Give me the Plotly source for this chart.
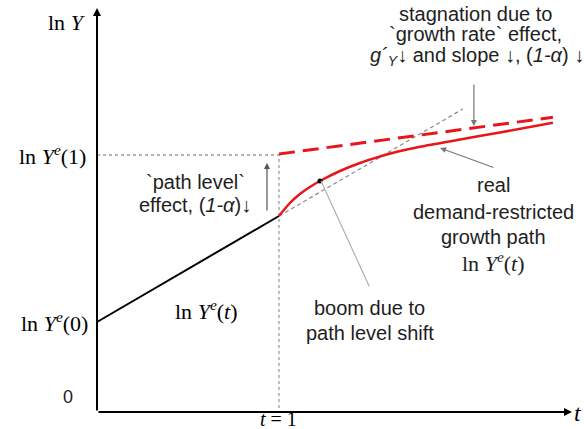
import plotly.graph_objects as go

# --- data (arbitrary units: t on the horizontal axis, ln Y on the vertical) ---
ln_ye0 = 0.90          # ln Y^e(0)
ln_ye1 = 2.57          # ln Y^e(1)
t_shift = 1.0          # t = 1

# equilibrium path before the shift
t_path = [0.0, 1.0]
y_path = [0.90, 1.96]

# continuation of the old path (grey dashed)
t_old = [1.0, 2.01]
y_old = [1.96, 3.03]

# new equilibrium path after the level shift (red dashed)
t_new = [1.0, 2.505]
y_new = [2.58, 2.947]

# real demand-restricted growth path (red solid)
t_real = [1.0, 1.06, 1.115, 1.17, 1.225, 1.335, 1.445, 1.555, 1.648, 1.775, 1.995, 2.214, 2.505]
y_real = [1.96, 2.09, 2.18, 2.25, 2.31, 2.41, 2.49, 2.555, 2.603, 2.653, 2.725, 2.795, 2.893]

# boom point on the real path
t_boom = [1.225]
y_boom = [2.31]

x_end = 2.61
y_top = 4.04

RED = "#e8161b"
SERIF = "Liberation Serif"
SANS = "Liberation Sans"

fig = go.Figure()

# dotted guides to ln Y^e(1) and t = 1
fig.add_trace(go.Scatter(x=[0, t_shift, t_shift], y=[ln_ye1, ln_ye1, 0], mode="lines",
                         line=dict(color="#9a9a9a", width=1.3, dash="dot"), hoverinfo="skip"))
fig.add_trace(go.Scatter(x=t_old, y=y_old, mode="lines",
                         line=dict(color="#8a8a8a", width=1.2, dash="4px,3px"), hoverinfo="skip"))
fig.add_trace(go.Scatter(x=t_path, y=y_path, mode="lines",
                         line=dict(color="black", width=2), hoverinfo="skip"))
fig.add_trace(go.Scatter(x=t_new, y=y_new, mode="lines",
                         line=dict(color=RED, width=3, dash="16px,8px"), hoverinfo="skip"))
fig.add_trace(go.Scatter(x=t_real, y=y_real, mode="lines",
                         line=dict(color=RED, width=2.5, shape="spline", smoothing=0.8),
                         hoverinfo="skip"))
fig.add_trace(go.Scatter(x=t_boom, y=y_boom, mode="markers",
                         marker=dict(color="black", size=5), hoverinfo="skip"))

ann = []


def arrow(x, y, ax, ay, color="#777777", head=2, width=1.2, size=1.0):
    ann.append(dict(x=x, y=y, ax=ax, ay=ay, xref="x", yref="y", axref="x", ayref="y",
                    text="", showarrow=True, arrowhead=head, arrowwidth=width,
                    arrowsize=size, arrowcolor=color))


def label(x, y, text, font=SANS, size=20, xanchor="center", color="#1e1e1e"):
    ann.append(dict(x=x, y=y, xref="x", yref="y", text=text, showarrow=False,
                    xanchor=xanchor, yanchor="middle",
                    font=dict(family=font, size=size, color=color)))


# axes drawn as arrows
arrow(x_end, 0, 0, 0, color="black", head=2, width=2, size=0.8)
arrow(0, y_top, 0, 0, color="black", head=2, width=2, size=0.8)

# annotation arrows
arrow(2.071, 2.86, 2.071, 3.29, color="#777777", head=2, width=1.2)
arrow(0.934, 2.49, 0.934, 2.00, color="#555555", head=2, width=1.2)
arrow(1.885, 2.64, 2.187, 2.44, color="#777777", head=2, width=1.2)
arrow(1.231, 2.31, 1.50, 1.24, color="#b0b0b0", head=0, width=1.2)

# axis labels
label(-0.05, 3.90, "ln <i>Y</i>", font=SERIF, size=22, xanchor="right", color="black")
label(-0.05, ln_ye1, "ln <i>Y</i><sup><i>e</i></sup>(1)", font=SERIF, size=22, xanchor="right", color="black")
label(-0.04, ln_ye0, "ln <i>Y</i><sup><i>e</i></sup>(0)", font=SERIF, size=22, xanchor="right", color="black")
label(-0.16, 0.15, "0", font=SANS, size=18)
label(t_shift, -0.065, "<i>t</i> = 1", font=SERIF, size=20, color="black")
label(2.645, -0.01, "<i>t</i>", font=SERIF, size=24, color="black")
label(0.604, 1.02, "ln <i>Y</i><sup><i>e</i></sup>(<i>t</i>)", font=SERIF, size=22, color="black")

# explanatory text
label(2.08, 3.98, "stagnation due to")
label(2.08, 3.78, "`growth rate` effect,")
label(2.09, 3.56, "<i>g´</i><sub><i>Y</i></sub>↓ and slope ↓, (<i>1-α</i>) ↓")
label(0.54, 2.30, "`path level`")
label(0.54, 2.07, "effect, (<i>1-α</i>)↓")
label(2.18, 2.27, "real")
label(2.18, 2.00, "demand-restricted")
label(2.18, 1.75, "growth path")
label(2.18, 1.50, "ln <i>Y</i><sup><i>e</i></sup>(<i>t</i>)", font=SERIF, size=22)
label(1.50, 1.04, "boom due to")
label(1.50, 0.79, "path level shift")

fig.update_layout(
    width=584, height=429,
    margin=dict(l=0, r=0, t=0, b=0),
    paper_bgcolor="white", plot_bgcolor="white",
    showlegend=False,
    xaxis=dict(range=[-0.533, 2.676], visible=False, fixedrange=True),
    yaxis=dict(range=[-0.17, 4.12], visible=False, fixedrange=True),
    annotations=ann,
)

fig.write_html("out.html")
